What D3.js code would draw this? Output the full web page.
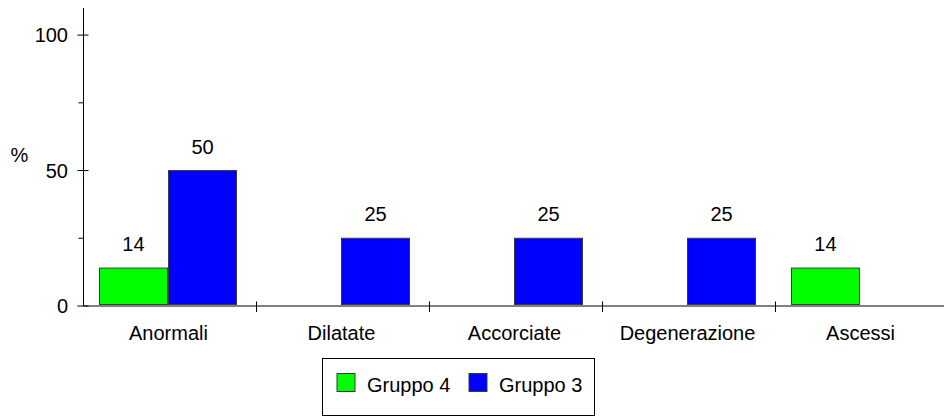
<!DOCTYPE html>
<html>
<head>
<meta charset="utf-8">
<script src="https://cdn.jsdelivr.net/npm/d3@7"></script>
<style>
  body { margin: 0; background: #fff; }
  text { font-family: Arial, "Liberation Sans", sans-serif; fill: #000; }
</style>
</head>
<body>
<svg id="chart"></svg>
<script>
const categories = ["Anormali", "Dilatate", "Accorciate", "Degenerazione", "Ascessi"];
const seriesNames = ["Gruppo 4", "Gruppo 3"];
const gruppo4 = [14, null, null, null, 14];
const gruppo3 = [50, 25, 25, 25, null];
const yTicks = [0, 50, 100];
const yMinorTicks = [25, 75];
const colors = ["#00ff00", "#0000ff"];

const width = 944;
const height = 418;

const svg = d3.select("#chart").attr("width", width).attr("height", height);

const x0 = 83.5;
const y0 = 306;

const xScale = d3.scaleBand().domain(categories).range([x0, x0 + 173 * categories.length]);
const xSub = d3.scaleBand().domain(seriesNames).range([16, 153]).paddingInner(0.0146);
const yScale = d3.scaleLinear().domain([0, 110]).range([y0, 8]);
const colorScale = d3.scaleOrdinal().domain(seriesNames).range(colors);

const rows = [];
categories.forEach((c, i) => {
  rows.push({ cat: c, series: "Gruppo 4", value: gruppo4[i] });
  rows.push({ cat: c, series: "Gruppo 3", value: gruppo3[i] });
});
const data = rows.filter(d => d.value != null);

// bars
svg.append("g").selectAll("rect")
  .data(data)
  .enter()
  .append("rect")
  .attr("x", d => xScale(d.cat) + xSub(d.series))
  .attr("y", d => yScale(d.value))
  .attr("width", xSub.bandwidth())
  .attr("height", d => yScale(0) - yScale(d.value) - 1.5)
  .attr("fill", d => colorScale(d.series))
  .attr("stroke", "#3a3a3a")
  .attr("stroke-width", 1);

svg.append("g").selectAll("text")
  .data(data)
  .enter()
  .append("text")
  .attr("x", d => xScale(d.cat) + xSub(d.series) + xSub.bandwidth() / 2)
  .attr("y", d => yScale(d.value) - 17)
  .attr("text-anchor", "middle")
  .style("font-size", "20px")
  .text(d => d.value);

// y axis
const yAxis = svg.append("g");
yAxis.append("line")
  .attr("x1", x0).attr("x2", x0)
  .attr("y1", yScale(110)).attr("y2", y0)
  .attr("stroke", "#000");
yAxis.selectAll(".major")
  .data(yTicks)
  .enter()
  .append("line")
  .attr("x1", x0 - 6).attr("x2", x0 + 5)
  .attr("y1", d => yScale(d)).attr("y2", d => yScale(d))
  .attr("stroke", "#000");
yAxis.selectAll(".minor")
  .data(yMinorTicks)
  .enter()
  .append("line")
  .attr("x1", x0 - 5).attr("x2", x0)
  .attr("y1", d => yScale(d)).attr("y2", d => yScale(d))
  .attr("stroke", "#000");
yAxis.selectAll("text")
  .data(yTicks)
  .enter()
  .append("text")
  .attr("x", 68)
  .attr("y", d => yScale(d) + 7)
  .attr("text-anchor", "end")
  .style("font-size", "20px")
  .text(d => d);

svg.append("text")
  .attr("x", 19.5)
  .attr("y", 161.5)
  .attr("text-anchor", "middle")
  .style("font-size", "20px")
  .text("%");

// x axis
const xAxis = svg.append("g");
xAxis.append("line")
  .attr("x1", x0).attr("x2", width)
  .attr("y1", y0).attr("y2", y0)
  .attr("stroke", "#000");
xAxis.selectAll(".tick")
  .data(categories.slice(1))
  .enter()
  .append("line")
  .attr("x1", d => xScale(d)).attr("x2", d => xScale(d))
  .attr("y1", y0 - 4.5).attr("y2", y0 + 6)
  .attr("stroke", "#000");
xAxis.selectAll("text")
  .data(categories)
  .enter()
  .append("text")
  .attr("x", d => xScale(d) + xScale.bandwidth() / 2 - 1.5)
  .attr("y", 340)
  .attr("text-anchor", "middle")
  .style("font-size", "20px")
  .text(d => d);

// legend
const legend = svg.append("g").attr("transform", "translate(322.5,358.5)");
legend.append("rect")
  .attr("width", 272)
  .attr("height", 57)
  .attr("fill", "#fff")
  .attr("stroke", "#000");

const legendX = [14.5, 146.5];
seriesNames.forEach((s, i) => {
  const item = legend.append("g").attr("transform", `translate(${legendX[i]},15)`);
  item.append("rect")
    .attr("width", 18)
    .attr("height", 18)
    .attr("fill", colorScale(s))
    .attr("stroke", "#3a3a3a");
  item.append("text")
    .attr("x", 30)
    .attr("y", 18)
    .style("font-size", "20px")
    .text(s);
});
</script>
</body>
</html>
